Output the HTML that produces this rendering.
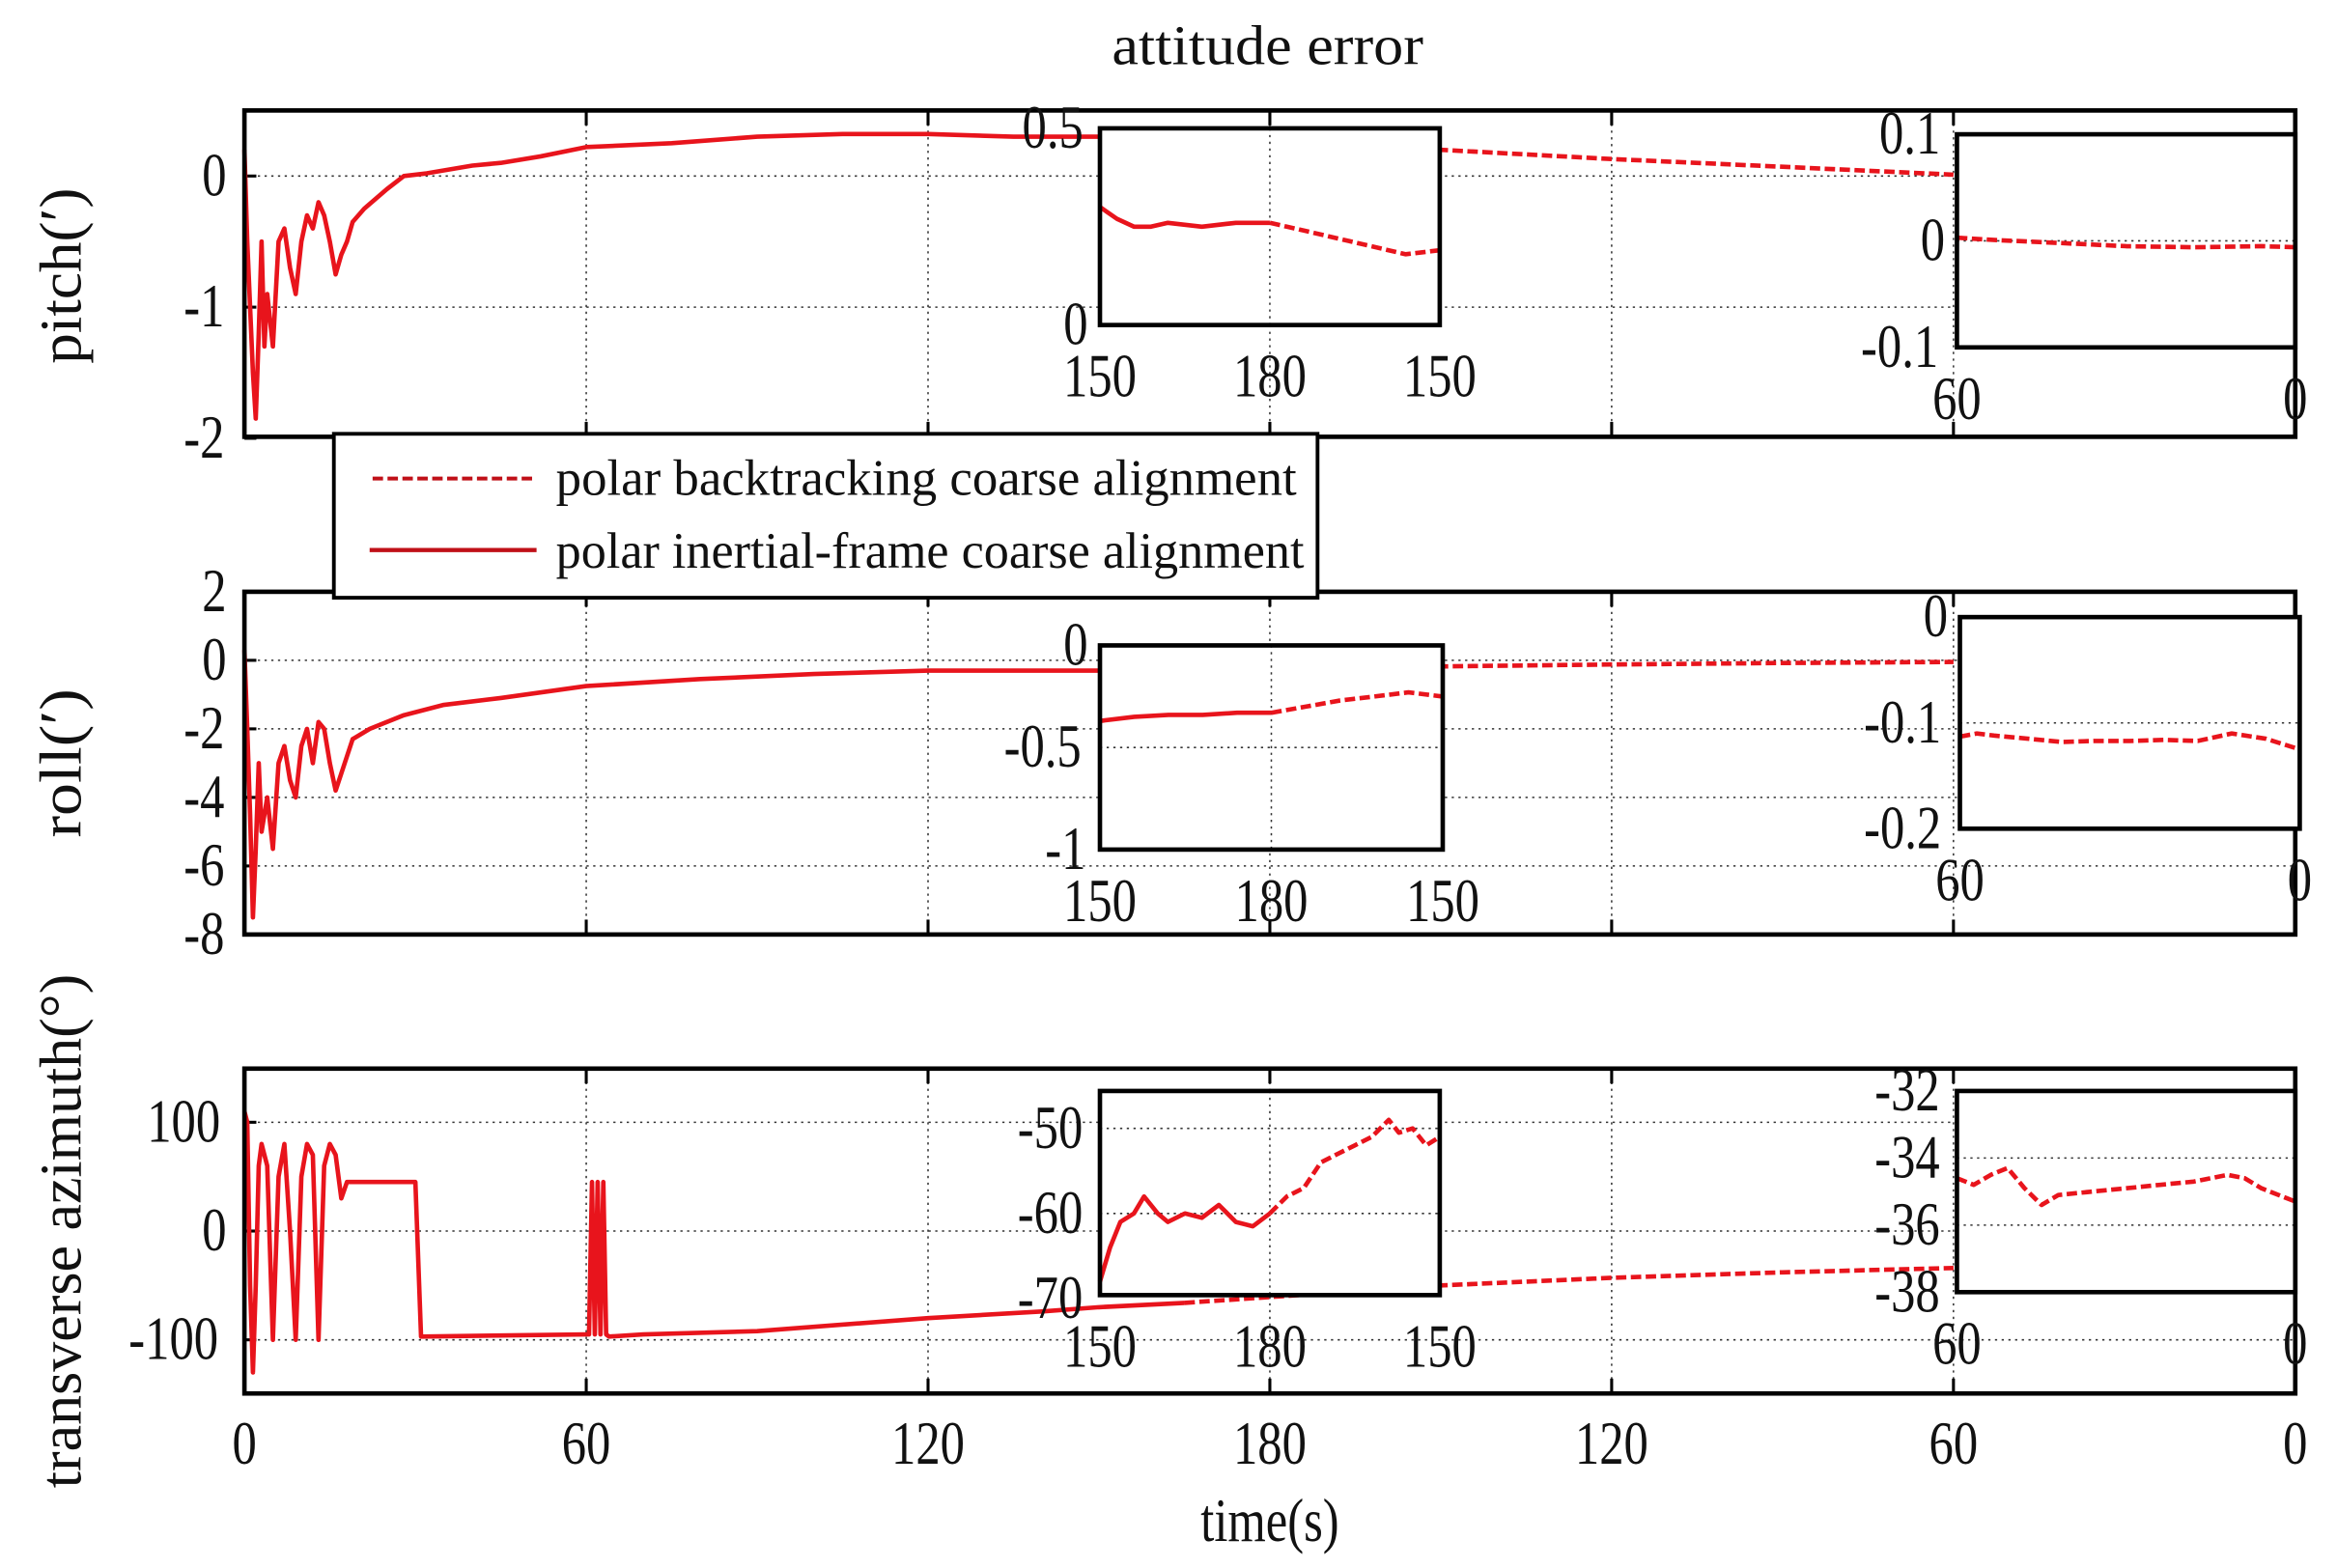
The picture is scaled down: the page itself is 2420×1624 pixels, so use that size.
<!DOCTYPE html>
<html><head><meta charset="utf-8"><style>
html,body{margin:0;padding:0;background:#fff;}
svg{display:block;}
text{font-family:"Liberation Serif",serif;fill:#111;}
.tk{font-size:41px;transform-box:fill-box;transform-origin:center;transform:scaleX(0.8);}
</style></head><body>
<svg id="chart" width="2420" height="1624" viewBox="0 0 1568 1052" xmlns="http://www.w3.org/2000/svg">
<g id="root"></g>
</svg>
<script>
// ---------- data ----------
const xTickLabels = ["0","60","120","180","120","60","0"];
const insetXLabels1 = ["150","180","150"];
const insetXLabels2 = ["60","0"];

const pitchT = [0,0.5,1,1.5,2,2.5,3,3.5,4,5,6,7,8,9,10,11,12,13,14,15,16,17,18,19,21,25,28,32,36,40,45,52,60,75,90,105,120,135,150,165];
const pitchV = [0.2,-0.5,-1.0,-1.5,-1.85,-1.2,-0.5,-1.3,-0.9,-1.3,-0.5,-0.4,-0.7,-0.9,-0.5,-0.3,-0.4,-0.2,-0.3,-0.5,-0.75,-0.6,-0.5,-0.35,-0.25,-0.1,0,0.02,0.05,0.08,0.1,0.15,0.22,0.25,0.3,0.32,0.32,0.3,0.3,0.28];
const pitchDT = [165,210,240,270,300];
const pitchDV = [0.28,0.2,0.13,0.07,0.01];

const rollT = [0,0.5,1,1.5,2,2.5,3,4,5,6,7,8,9,10,11,12,13,14,15,16,17,18,19,22,28,35,45,60,80,100,120,150,165];
const rollV = [0.3,-2,-4.5,-7.5,-5.5,-3,-5,-4,-5.5,-3,-2.5,-3.5,-4,-2.5,-2,-3,-1.8,-2,-3,-3.8,-3.3,-2.8,-2.3,-2,-1.6,-1.3,-1.1,-0.75,-0.55,-0.4,-0.3,-0.3,-0.28];
const rollDT = [165,210,240,270,300];
const rollDV = [-0.28,-0.18,-0.12,-0.08,-0.05];

const azT = [0,0.5,1,1.5,2,2.5,3,4,5,6,7,8,9,10,11,12,13,14,15,16,17,18,20,30,31,45,60,60.5,61,61.5,62,62.5,63,63.5,64,70,90,120,140,150,165];
const azV = [110,100,-50,-130,-50,60,80,60,-100,50,80,0,-100,50,80,70,-100,60,80,70,30,45,45,45,-97,-96,-95,-95,45,-95,45,-95,45,-95,-97,-95,-92,-80,-74,-70,-66];
const azDT = [165,210,240,270,300];
const azDV = [-66,-50,-43,-38,-34];

const pIn1T = [0,.05,.1,.15,.2,.3,.4,.5,.55,.6,.7,.8,.9,1];
const pIn1V = [0.3,0.27,0.25,0.25,0.26,0.25,0.26,0.26,0.25,0.24,0.22,0.2,0.18,0.19];
const pIn2T = [0,.1,.3,.5,.7,.9,1];
const pIn2V = [0.003,0.001,-0.002,-0.005,-0.006,-0.005,-0.006];
const rIn1T = [0,.1,.2,.3,.4,.5,.6,.7,.8,.9,1];
const rIn1V = [-0.37,-0.35,-0.34,-0.34,-0.33,-0.33,-0.3,-0.27,-0.25,-0.23,-0.25];
const rIn2T = [0,.05,.1,.2,.3,.4,.5,.6,.7,.8,.9,1];
const rIn2V = [-0.113,-0.11,-0.112,-0.115,-0.118,-0.117,-0.117,-0.116,-0.117,-0.11,-0.115,-0.125];
const aIn1T = [0,.03,.06,.1,.13,.17,.2,.25,.3,.35,.4,.45,.5,.55,.6,.65,.7,.75,.8,.85,.88,.92,.96,1];
const aIn1V = [-68,-64,-61,-60,-58,-60,-61,-60,-60.5,-59,-61,-61.5,-60,-58,-57,-54,-53,-52,-51,-49,-50.5,-50,-52,-51];
const aIn2T = [0,.05,.1,.15,.2,.25,.3,.4,.5,.6,.7,.8,.85,.9,1];
const aIn2V = [-34.6,-34.8,-34.5,-34.3,-34.9,-35.4,-35.1,-35.0,-34.9,-34.8,-34.7,-34.5,-34.6,-34.9,-35.3];

// ---------- drawing ----------
const NS = "http://www.w3.org/2000/svg";
const root = document.getElementById('root');
function el(tag, attrs, parent){ const e=document.createElementNS(NS,tag); for(const k in attrs) e.setAttribute(k,attrs[k]); (parent||root).appendChild(e); return e; }
function txt(s,x,y,anchor,cls,name){ const t=el('text',{x:x,y:y,'text-anchor':anchor||'middle','class':cls||'tk'}); t.textContent=s;
  
   return t; }

const L=164, R=1540;
const xs = u => L + u*(R-L)/360;
function linY(v0,y0,v1,y1){ return v => y0 + (v-v0)*(y1-y0)/(v1-v0); }

function line(T,V,fx,fy,dash,name){
  const d = T.map((t,i)=>(i?'L':'M')+fx(t).toFixed(1)+','+fy(V[i]).toFixed(1)).join('');
  const p = el('path',{d:d,fill:'none',stroke:'#e8141c','stroke-width':3,'stroke-linejoin':'round'});
  if(dash) p.setAttribute('stroke-dasharray','7 3');
  
  
  return p;
}
function grid(x1,y1,x2,y2){ const g=el('line',{x1:x1,y1:y1,x2:x2,y2:y2,stroke:'#333','stroke-width':1,'stroke-dasharray':'1.5 3'});
  
   }
function box(x,y,w,h,name){ const b=el('rect',{x:x,y:y,width:w,height:h,fill:'none',stroke:'#000','stroke-width':3});
  
   }

function mainAxes(top,bot,fy,yticks,ylabels,name){
  el('rect',{x:L,y:top,width:R-L,height:bot-top,fill:'#fff'});
  yticks.forEach(v=>{ const y=fy(v); if(y>top+2&&y<bot-2) grid(L,y,R,y); });
  for(let i=1;i<6;i++){ const x=xs(i*60); grid(x,top,x,bot);
    el('line',{x1:x,y1:top,x2:x,y2:top+10,stroke:'#000','stroke-width':2}); el('line',{x1:x,y1:bot,x2:x,y2:bot-10,stroke:'#000','stroke-width':2}); }
  yticks.forEach((v,i)=>{ const y=fy(v); el('line',{x1:L,y1:y,x2:L+8,y2:y,stroke:'#000','stroke-width':2}); txt(ylabels[i],L-10,y+13,'end','tk','y-tick-label'); });
}
function inset(x0,y0,x1,y1,vTop,vBot,yt,ylab,xlab,series,name){
  const fx=t=>x0+t*(x1-x0), fy=linY(vTop,y0,vBot,y1);
  el('rect',{x:x0,y:y0,width:x1-x0,height:y1-y0,fill:'#fff'});
  yt.forEach(v=>{ const y=fy(v); if(y>y0+3&&y<y1-3) grid(x0,y,x1,y); });
  if(xlab.length===3) grid((x0+x1)/2,y0,(x0+x1)/2,y1);
  series.forEach(s=>line(s[0],s[1],fx,fy,s[2],name+'-series'));
  box(x0,y0,x1-x0,y1-y0,name+'-frame');
  yt.forEach((v,i)=>txt(ylab[i],x0-6,fy(v)+13,'end','tk','inset-y-tick-label'));
  xlab.forEach((s,i)=>txt(s,x0+i*(x1-x0)/(xlab.length-1),y1+48,'middle','tk','inset-x-tick-label'));
}
function split(T,V,cut){ const a=[[],[]],b=[[],[]]; T.forEach((t,i)=>{ if(t<=cut){a[0].push(t);a[1].push(V[i]);} if(t>=cut){b[0].push(t);b[1].push(V[i]);} }); return [a,b]; }

// title
{ const tt = el('text',{x:746,y:43,textLength:209,lengthAdjust:'spacingAndGlyphs',style:'font-size:38px'}); tt.textContent='attitude error';

 }

// pitch
const fyP = linY(0,118,-1,206);
mainAxes(74,293,fyP,[0,-1,-2],['0','-1','-2'],'pitch');
line(pitchT,pitchV,xs,fyP,false,'pitch-inertial-line');
line(pitchDT,pitchDV,xs,fyP,true,'pitch-backtracking-line');
box(L,74,R-L,219,'pitch-axes-frame');
{ const [a,b]=split(pIn1T,pIn1V,0.5);
inset(738,86,966,218,0.5,0,[0.5,0],['0.5','0'],insetXLabels1,[[a[0],a[1],false],[b[0],b[1],true]],'pitch-inset-1'); }
inset(1313,90,1540,233,0.1,-0.1,[0.1,0,-0.1],['0.1','0','-0.1'],insetXLabels2,[[pIn2T,pIn2V,true]],'pitch-inset-2');

// roll
const fyR = linY(2,397,-8,627);
mainAxes(397,627,fyR,[2,0,-2,-4,-6,-8],['2','0','-2','-4','-6','-8'],'roll');
line(rollT,rollV,xs,fyR,false,'roll-inertial-line');
line(rollDT,rollDV,xs,fyR,true,'roll-backtracking-line');
box(L,397,R-L,230,'roll-axes-frame');
{ const [a,b]=split(rIn1T,rIn1V,0.5);
inset(738,433,968,570,0,-1,[0,-0.5,-1],['0','-0.5','-1'],insetXLabels1,[[a[0],a[1],false],[b[0],b[1],true]],'roll-inset-1'); }
inset(1315,414,1543,556,0,-0.2,[0,-0.1,-0.2],['0','-0.1','-0.2'],insetXLabels2,[[rIn2T,rIn2V,true]],'roll-inset-2');

// azimuth
const fyA = linY(100,753,-100,899);
mainAxes(717,935,fyA,[100,0,-100],['100','0','-100'],'azimuth');
line(azT,azV,xs,fyA,false,'azimuth-inertial-line');
line(azDT,azDV,xs,fyA,true,'azimuth-backtracking-line');
box(L,717,R-L,218,'azimuth-axes-frame');
{ const [a,b]=split(aIn1T,aIn1V,0.5);
inset(738,732,966,869,-45.6,-69.6,[-50,-60,-70],['-50','-60','-70'],insetXLabels1,[[a[0],a[1],false],[b[0],b[1],true]],'azimuth-inset-1'); }
inset(1313,732,1540,867,-32,-38,[-32,-34,-36,-38],['-32','-34','-36','-38'],insetXLabels2,[[aIn2T,aIn2V,true]],'azimuth-inset-2');

// x tick labels
xTickLabels.forEach((s,i)=>txt(s,xs(i*60),982,'middle','tk','x-tick-label'));
txt('time(s)',852,1034,'middle','tk','x-axis-title');

// y axis titles
function ytitle(s,cx,cy,len,name){ const t=el('text',{x:0,y:0,'text-anchor':'middle',textLength:len,lengthAdjust:'spacingAndGlyphs',transform:`translate(${cx},${cy}) rotate(-90)`,style:'font-size:40px'}); t.textContent=s;
  
   }
ytitle('pitch(′)',54,185,118,'pitch-axis-title');
ytitle('roll(′)',54,512,100,'roll-axis-title');
ytitle('transverse azimuth(°)',54,826,345,'azimuth-axis-title');

// legend
const lg = el('g',{});


el('rect',{x:224,y:291,width:660,height:110,fill:'#fff',stroke:'#000','stroke-width':2.5},lg);
const l1=el('line',{x1:250,y1:321,x2:358,y2:321,stroke:'#c01018','stroke-width':2.6,'stroke-dasharray':'7 3'},lg);


const l2=el('line',{x1:248,y1:369,x2:360,y2:369,stroke:'#c01018','stroke-width':2.8},lg);


const t1=el('text',{x:373,y:332,textLength:497,lengthAdjust:'spacingAndGlyphs',style:'font-size:34px'},lg); t1.textContent='polar  backtracking coarse alignment';


const t2=el('text',{x:373,y:381,textLength:502,lengthAdjust:'spacingAndGlyphs',style:'font-size:34px'},lg); t2.textContent='polar inertial-frame coarse alignment';


</script>
</body></html>
